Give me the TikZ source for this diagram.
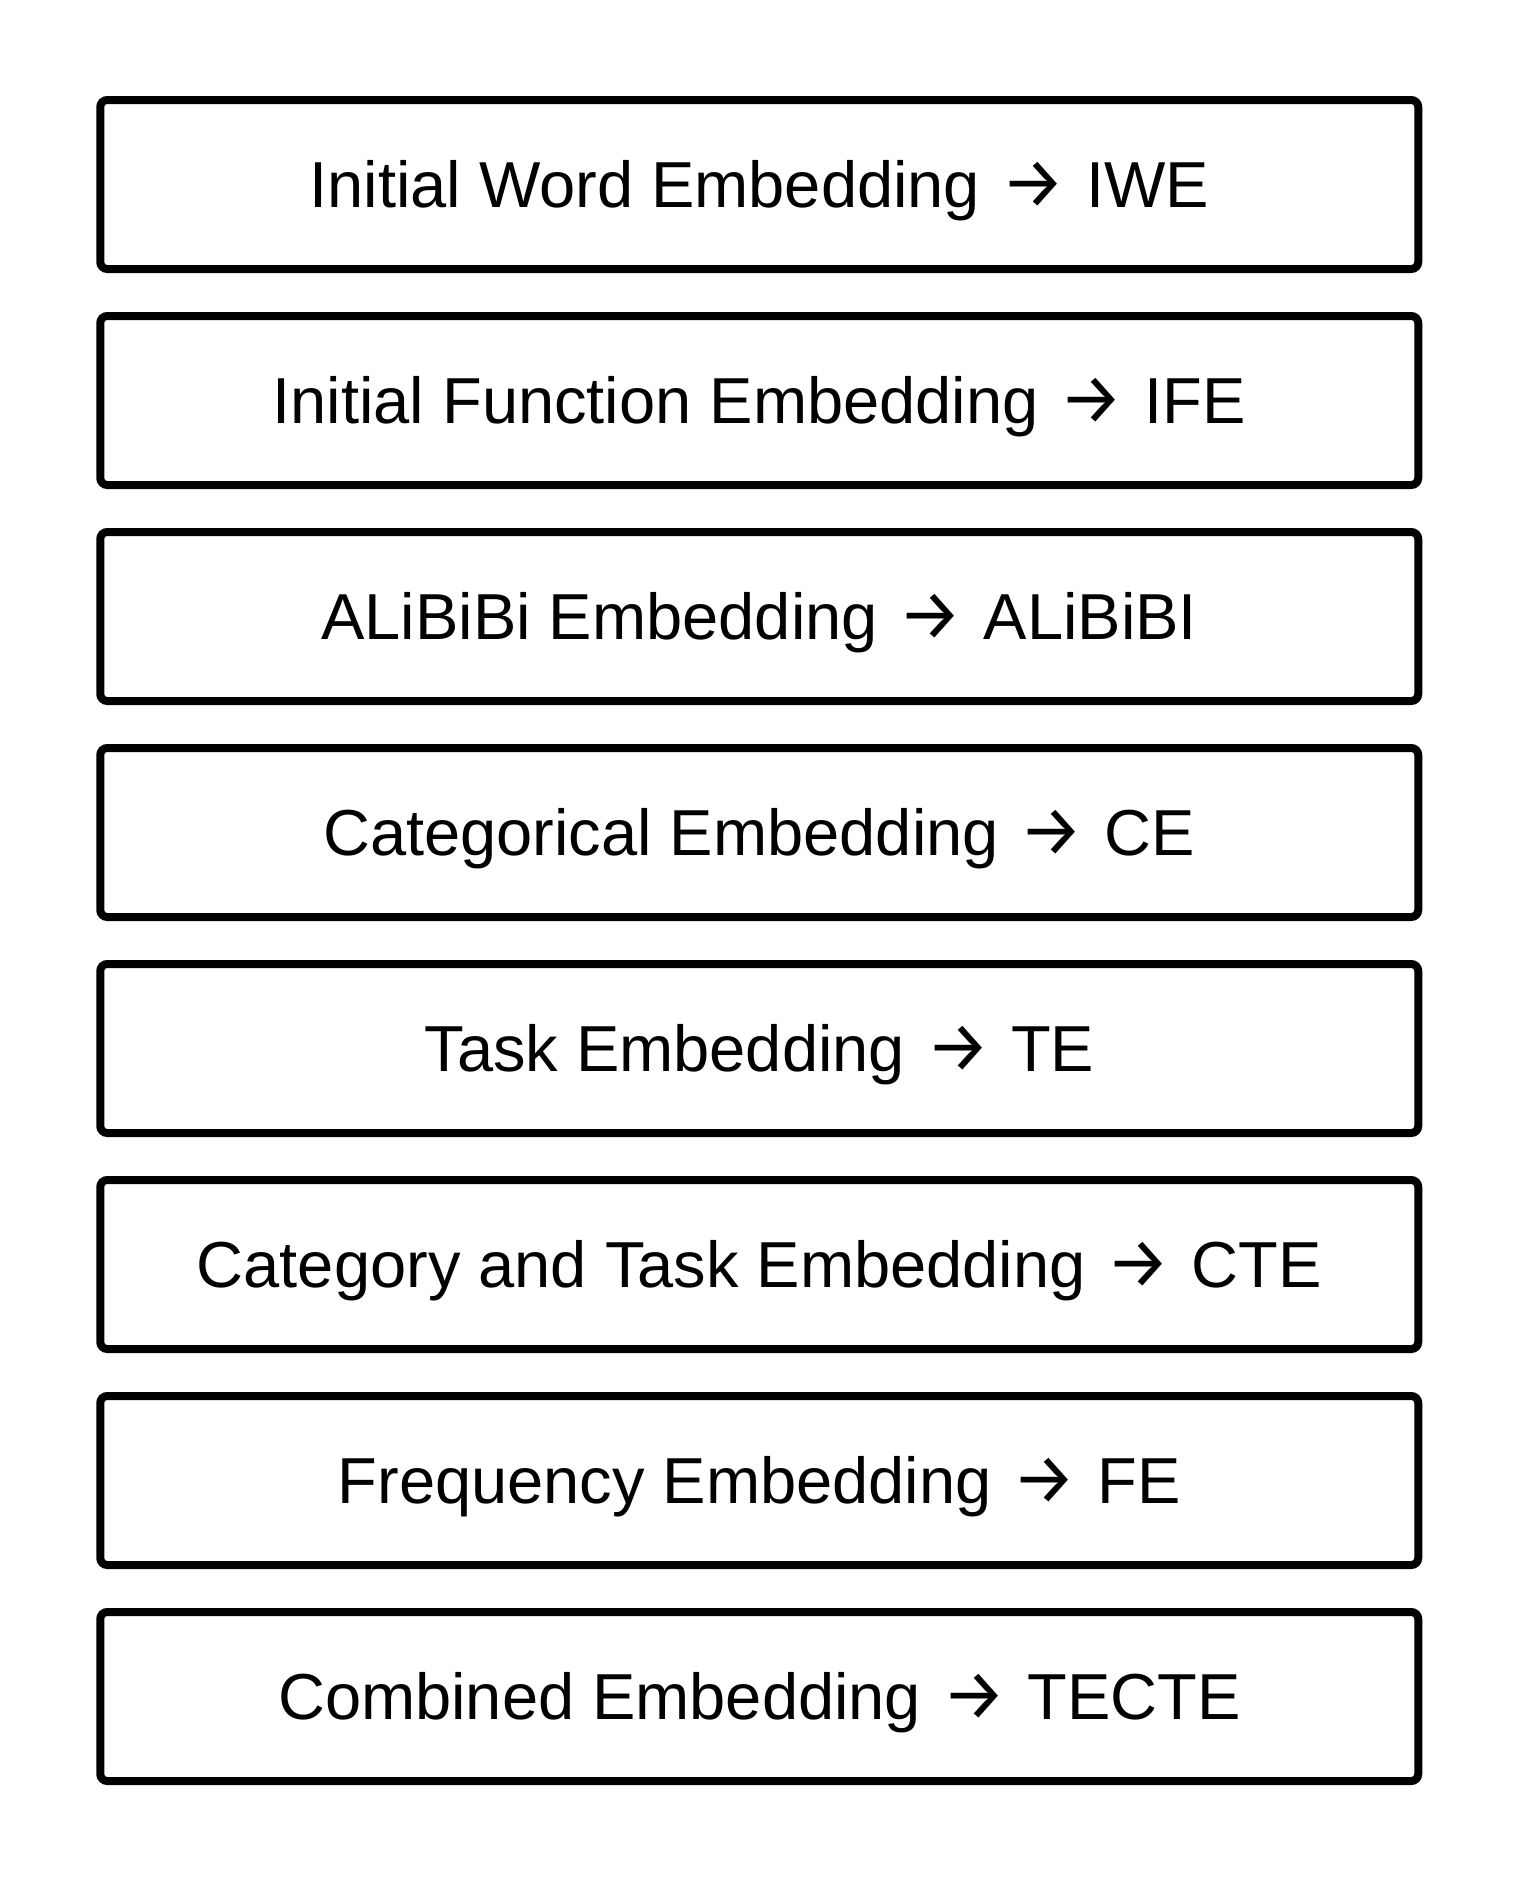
\documentclass[tikz,border=0pt]{standalone}
\usepackage{fontspec}
\setmainfont{Liberation Sans}
% arrow glyph with an open chevron head
\newfontfamily\arrowfont{Fira Sans}
\newcommand{\toarrow}{\hspace{3pt}{\arrowfont\fontsize{71}{78}\selectfont →}\hspace{3pt}}
\begin{document}
\begin{tikzpicture}[x=1pt,y=-1pt,
  stagebox/.style={draw=black, line width=8pt, rounded corners=7pt,
    minimum width=1318pt, minimum height=169pt, inner sep=0pt,
    text height=46.5pt, text depth=0pt,
    font=\fontsize{65}{78}\selectfont, anchor=center}]
  % canvas
  \useasboundingbox (0,0) rectangle (1519,1882);
  \node[stagebox] (iwe)   at (759.25,184.5)  {Initial Word Embedding \toarrow{} IWE};
  \node[stagebox] (ife)   at (759.25,400.5)  {Initial Function Embedding \toarrow{} IFE};
  \node[stagebox] (ali)   at (759.25,616.5)  {ALiBiBi Embedding \toarrow{} ALiBiBI};
  \node[stagebox] (ce)    at (759.25,832.5)  {Categorical Embedding \toarrow{} CE};
  \node[stagebox] (te)    at (759.25,1048.5) {Task Embedding \toarrow{} TE};
  \node[stagebox] (cte)   at (759.25,1264.5) {Category and Task Embedding \toarrow{} CTE};
  \node[stagebox] (fe)    at (759.25,1480.5) {Frequency Embedding \toarrow{} FE};
  \node[stagebox] (tecte) at (759.25,1696.5) {Combined Embedding \toarrow{} TECTE};
\end{tikzpicture}
\end{document}
